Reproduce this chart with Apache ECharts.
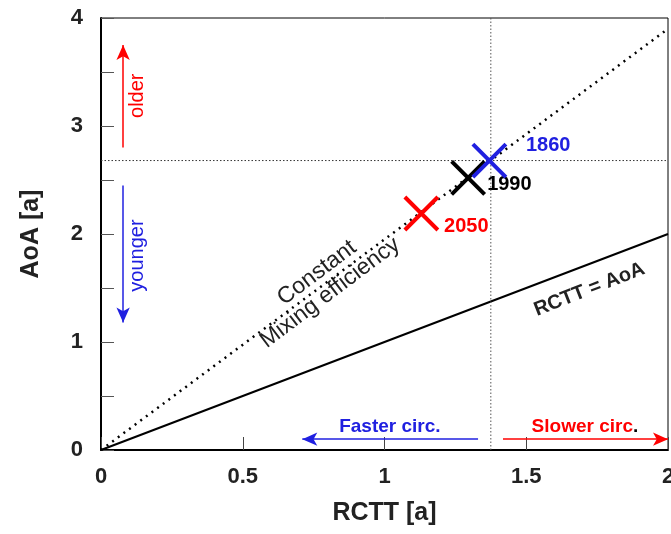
<!DOCTYPE html>
<html><head><meta charset="utf-8">
<script src="https://cdn.jsdelivr.net/npm/echarts@6/dist/echarts.min.js"></script>
<style>html,body{margin:0;padding:0;background:#fff}#c{width:671px;height:534px}</style>
</head><body><div id="c"></div>
<script>
// ---- data ----
const xTickLabels = ['0', '0.5', '1', '1.5', '2'];
const yTickLabels = ['0', '1', '2', '3', '4'];
const years = ['1860', '1990', '2050'];
const yearRCTT = [1.37, 1.295, 1.13];
const yearAoA = [2.68, 2.52, 2.19];
const identityX = [0, 2];
const identityY = [0, 2];
const mixingX = [0, 2];
const mixingY = [0, 3.9];
const refRCTT = 1.375;
const refAoA = 2.68;

const BLUE = '#2020e0', RED = '#ff0000', BLACK = '#000';
const FONT = 'Liberation Sans, Arial, sans-serif';
const yearColors = [BLUE, BLACK, RED];

const chart = echarts.init(document.getElementById('c'), null, {renderer: 'canvas'});

const arrows = [
  {from: [0.078, 2.80], to: [0.078, 3.75], color: RED},
  {from: [0.078, 2.45], to: [0.078, 1.18], color: BLUE},
  {from: [1.33, 0.10], to: [0.71, 0.10], color: BLUE},
  {from: [1.418, 0.10], to: [2.0, 0.10], color: RED}
];

const option = {
  animation: false,
  backgroundColor: '#fff',
  grid: {left: 101, right: 3, top: 18, bottom: 84, show: true, borderColor: '#000', borderWidth: 1,
    containLabel: false, outerBoundsMode: 'none'},
  xAxis: {
    type: 'value', min: 0, max: 2, interval: 0.5,
    name: 'RCTT [a]', nameLocation: 'middle', nameGap: 51,
    nameTextStyle: {fontFamily: FONT, fontSize: 25, fontWeight: 'bold', color: '#222'},
    axisLine: {show: true, lineStyle: {color: '#000', width: 2}},
    axisTick: {show: true, inside: true, length: 13, lineStyle: {color: '#444', width: 1}},
    axisLabel: {fontFamily: FONT, fontSize: 22, fontWeight: 'bold', color: '#222', margin: 16,
      formatter: v => xTickLabels[Math.round(v * 2)]},
    splitLine: {show: false}
  },
  yAxis: {
    type: 'value', min: 0, max: 4, interval: 0.5,
    name: 'AoA [a]', nameLocation: 'middle', nameGap: 57,
    nameTextStyle: {fontFamily: FONT, fontSize: 25, fontWeight: 'bold', color: '#222'},
    axisLine: {show: true, lineStyle: {color: '#000', width: 2}},
    axisTick: {show: true, inside: true, length: 13, lineStyle: {color: '#555', width: 1}},
    axisLabel: {fontFamily: FONT, fontSize: 22, fontWeight: 'bold', color: '#222', margin: 18,
      formatter: v => (Math.abs(v - Math.round(v)) < 1e-6 ? yTickLabels[Math.round(v)] : '')},
    splitLine: {show: false}
  },
  series: [
    {type: 'line', data: identityX.map((x, i) => [x, identityY[i]]), symbol: 'none',
      lineStyle: {color: BLACK, width: 2}},
    {type: 'line', data: mixingX.map((x, i) => [x, mixingY[i]]), symbol: 'none',
      lineStyle: {color: BLACK, width: 2.5, type: [2, 5]}},
    {type: 'line', data: [[refRCTT, 0], [refRCTT, 4]], symbol: 'none',
      lineStyle: {color: '#555', width: 1, type: [1.5, 2]}},
    {type: 'line', data: [[0, refAoA], [2, refAoA]], symbol: 'none',
      lineStyle: {color: '#333', width: 1, type: [1.5, 2]}},
    {type: 'line', data: [], symbol: 'none',
      markLine: {silent: true, symbol: ['none', 'arrow'], symbolSize: [10, 15], label: {show: false},
        data: arrows.map(a => [{coord: a.from, lineStyle: {color: a.color, width: 1.5, type: 'solid'}, itemStyle: {color: a.color}},
                               {coord: a.to}])}},
    {type: 'scatter', data: yearRCTT.map((x, i) => ({value: [x, yearAoA[i]],
        itemStyle: {color: 'rgba(0,0,0,0)', borderColor: yearColors[i], borderWidth: 4, opacity: 1}})).reverse(),
      symbol: 'path://M0,0L10,10M10,0L0,10', symbolSize: 33, z: 5}
  ]
};
chart.setOption(option);

function px(x, y) { return chart.convertToPixel({gridIndex: 0}, [x, y]); }
const texts = [
  {t: 'older', at: [0.127, 3.28], rot: 90, color: RED, size: 20, w: 'normal'},
  {t: 'younger', at: [0.127, 1.80], rot: 90, color: BLUE, size: 20, w: 'normal'},
  {t: 'Faster circ.', at: [1.019, 0.213], rot: 0, color: BLUE, size: 19, w: 'bold'},
  {t: 'Constant', at: [0.762, 1.64], rot: 37, color: '#222', size: 23, w: 'normal'},
  {t: 'Mixing efficiency', at: [0.808, 1.455], rot: 37, color: '#222', size: 23, w: 'normal'},
  {t: 'RCTT = AoA', at: [1.723, 1.486], rot: 21.4, color: '#222', size: 20, w: 'bold'}
];
const yearLabelPos = [[1.499, 2.824], [1.362, 2.463], [1.210, 2.065]];
const graphics = texts.map(o => {
  const p = px(o.at[0], o.at[1]);
  return {type: 'text', x: p[0], y: p[1], rotation: o.rot * Math.PI / 180,
    style: {text: o.t, fill: o.color, font: o.w + ' ' + o.size + 'px ' + FONT, align: 'center', verticalAlign: 'middle'}};
});
const sp = px(1.707, 0.213);
graphics.push({type: 'text', x: sp[0], y: sp[1], style: {
  text: '{r|Slower circ}{k|.}', align: 'center', verticalAlign: 'middle',
  rich: {r: {fill: RED, font: 'bold 19px ' + FONT}, k: {fill: '#000', font: 'bold 19px ' + FONT}}}});
years.forEach((y, i) => {
  const p = px(yearLabelPos[i][0], yearLabelPos[i][1]);
  graphics.push({type: 'text', x: p[0], y: p[1], style: {text: y, fill: yearColors[i],
    font: 'bold 20px ' + FONT, align: 'left', verticalAlign: 'middle'}});
});
chart.setOption({graphic: graphics});
</script>
</body></html>
